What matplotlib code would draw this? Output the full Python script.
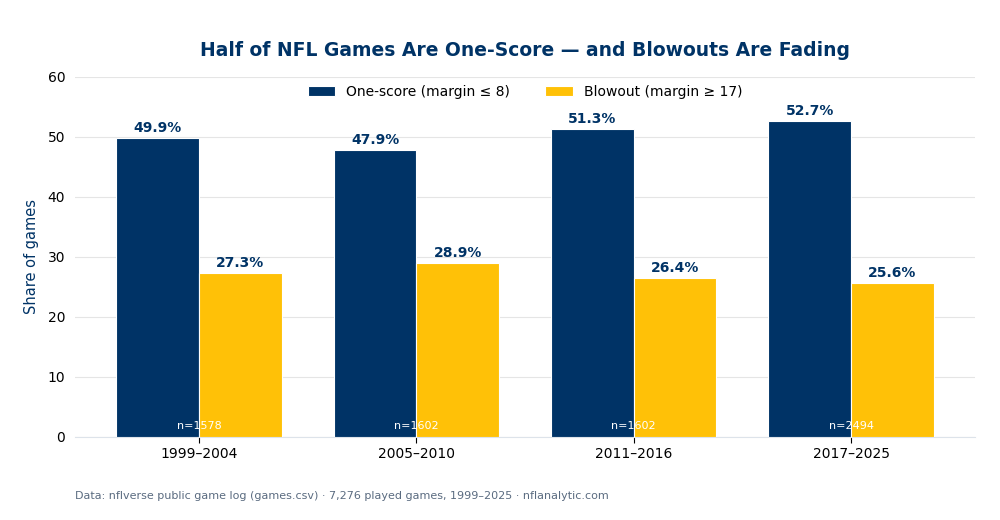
import matplotlib.pyplot as plt
import numpy as np

# eras and shares
eras = ["1999–2004", "2005–2010", "2011–2016", "2017–2025"]
one_score = [49.9, 47.9, 51.3, 52.7]
blowout = [27.3, 28.9, 26.4, 25.6]
games = [1578, 1602, 1602, 2494]

navy = "#003366"
gold = "#FFC107"

fig = plt.figure(figsize=(10, 5.2), dpi=100)
ax = fig.add_axes([0.075, 0.16, 0.9, 0.692])

x = np.arange(len(eras))
w = 0.38
b1 = ax.bar(x - w / 2, one_score, w, color=navy, edgecolor="white", linewidth=0.8,
            label="One-score (margin ≤ 8)", zorder=3)
b2 = ax.bar(x + w / 2, blowout, w, color=gold, edgecolor="white", linewidth=0.8,
            label="Blowout (margin ≥ 17)", zorder=3)

for bars in (b1, b2):
    for r in bars:
        ax.text(r.get_x() + r.get_width() / 2, r.get_height() + 0.5,
                f"{r.get_height():.1f}%", ha="center", va="bottom",
                fontsize=10, fontweight="bold", color=navy, zorder=4)

for i, n in enumerate(games):
    ax.text(x[i], 1.0, f"n={n}", ha="center", va="bottom", fontsize=8,
            color="white", zorder=4)

ax.set_xlim(-0.57, 3.57)
ax.set_ylim(0, 60)
ax.set_xticks(x)
ax.set_xticklabels(eras, fontsize=10)
ax.tick_params(axis="y", length=0, labelsize=10, pad=7)
ax.tick_params(axis="x", length=4)
ax.grid(axis="y", color="#e5e5e5", linewidth=0.8, zorder=0)
for s in ["top", "right", "left"]:
    ax.spines[s].set_visible(False)
ax.spines["bottom"].set_color("#dde3ea")

ax.set_ylabel("Share of games", color=navy, fontsize=10.5, labelpad=6)
ax.legend(loc="upper center", ncol=2, frameon=False, fontsize=10,
          bbox_to_anchor=(0.5, 1.013), handlelength=2, columnspacing=2.5)

fig.text(0.525, 0.902, "Half of NFL Games Are One-Score — and Blowouts Are Fading",
         ha="center", va="center", fontsize=13.5, fontweight="bold", color=navy)
fig.text(0.075, 0.046, "Data: nflverse public game log (games.csv) · 7,276 played games, 1999–2025 · nflanalytic.com",
         ha="left", va="center", fontsize=8, color="#5a6b80")

fig.savefig("out.png", dpi=100)
